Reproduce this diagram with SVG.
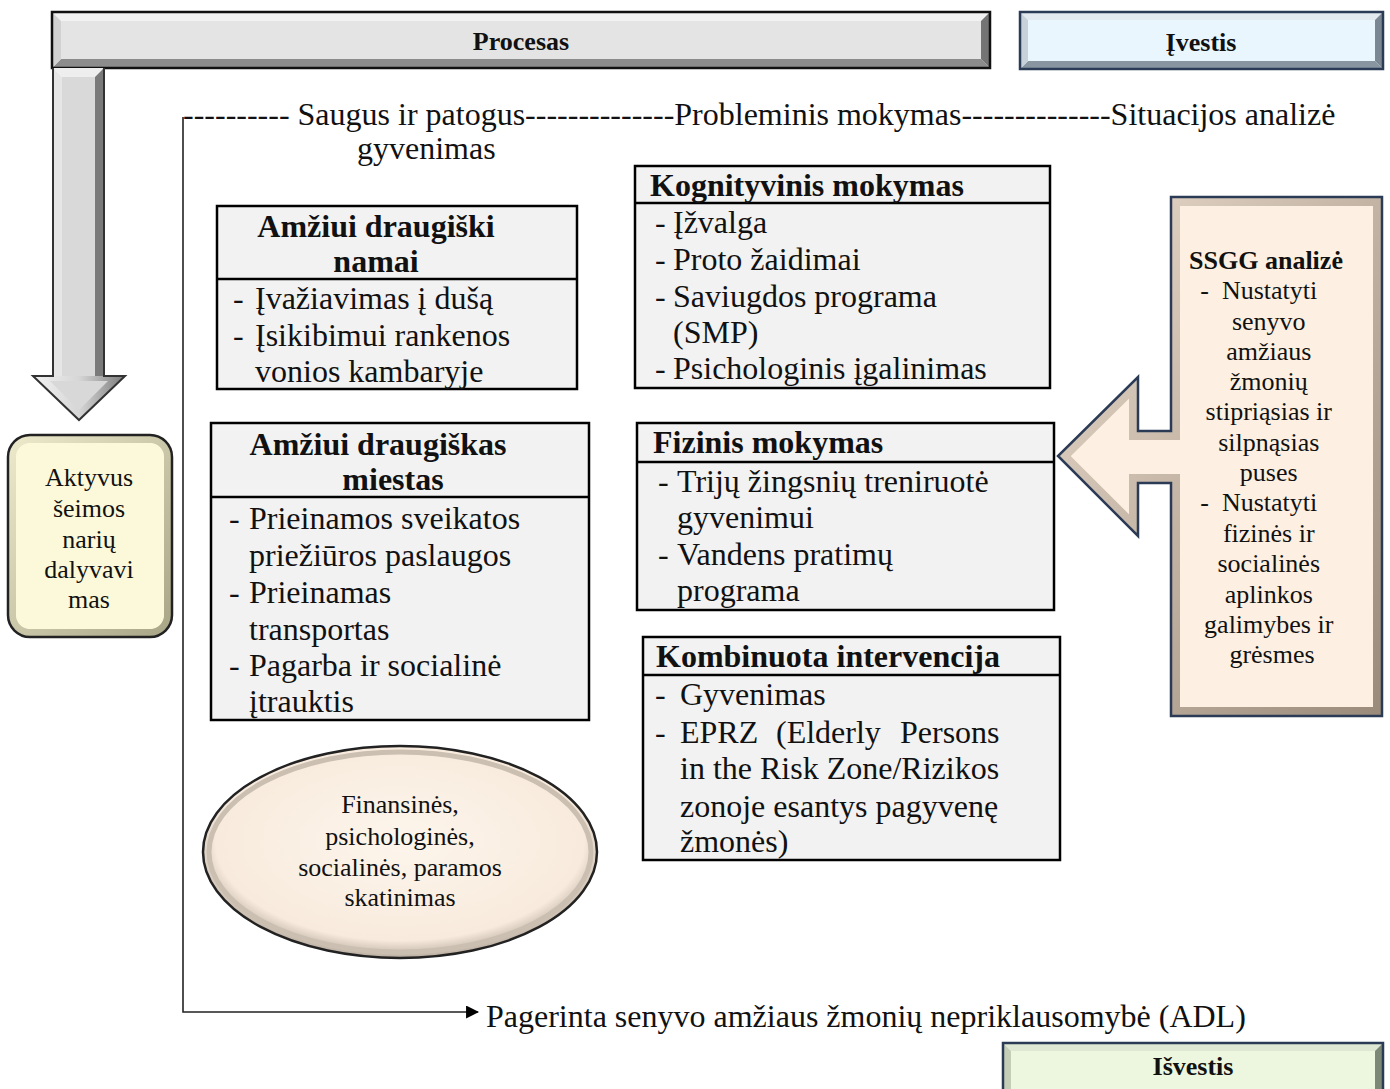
<svg xmlns="http://www.w3.org/2000/svg" width="1390" height="1089" viewBox="0 0 1390 1089">
<style>
  text { font-family: "Liberation Serif", "Times New Roman", serif; fill: #111; }
  .t32 { font-size: 32px; }
  .b32 { font-size: 32px; font-weight: bold; }
  .t26 { font-size: 26px; }
  .b26 { font-size: 26px; font-weight: bold; }
  .mid { text-anchor: middle; }
  .box { fill: #f2f2f2; stroke: #000; stroke-width: 2.5; }
  .div { stroke: #000; stroke-width: 2.5; }
  .conn { fill: none; stroke: #222; stroke-width: 1.6; }
</style>
<defs>
  <marker id="arr" viewBox="0 0 12 12" refX="11" refY="6" markerWidth="13" markerHeight="13" markerUnits="userSpaceOnUse" orient="auto">
    <path d="M0,0 L12,6 L0,12 Z" fill="#000"/>
  </marker>
  <linearGradient id="gHead" x1="0" y1="0" x2="1" y2="0">
    <stop offset="0" stop-color="#f2f2f2"/>
    <stop offset="0.5" stop-color="#d6d6d6"/>
    <stop offset="1" stop-color="#7c7c7c"/>
  </linearGradient>
  <linearGradient id="gPeach" x1="0" y1="0" x2="1" y2="1">
    <stop offset="0" stop-color="#eadccd"/>
    <stop offset="1" stop-color="#9a8a7a"/>
  </linearGradient>
  <linearGradient id="gYel" x1="0" y1="0" x2="1" y2="1">
    <stop offset="0" stop-color="#eeeacc"/>
    <stop offset="1" stop-color="#a8a486"/>
  </linearGradient>
  <radialGradient id="gEll" cx="0.5" cy="0.45" r="0.55">
    <stop offset="0" stop-color="#fdf5ec"/>
    <stop offset="0.85" stop-color="#f8ebdd"/>
    <stop offset="1" stop-color="#b9ada0"/>
  </radialGradient>
  <clipPath id="cSSGG"><path d="M1171,197 H1382 V716 H1171 V483 H1138 V536 L1058,456 L1138,377 V431 H1171 Z"/></clipPath>
  <clipPath id="cAkt"><rect x="8" y="435" width="164" height="202" rx="22"/></clipPath>
</defs>

<!-- Procesas bar -->
<g id="procesas">
  <polygon points="52,12 990,12 981,21 61,21" fill="#f2f2f2"/>
  <polygon points="52,68 990,68 981,59 61,59" fill="#8c8c8c"/>
  <polygon points="52,12 61,21 61,59 52,68" fill="#d2d2d2"/>
  <polygon points="990,12 981,21 981,59 990,68" fill="#747474"/>
  <rect x="61" y="21" width="920" height="38" fill="#e4e4e4"/>
  <rect x="52" y="12" width="938" height="56" fill="none" stroke="#111" stroke-width="2.5"/>
  <text x="521" y="50" class="b26 mid">Procesas</text>
</g>

<!-- Down arrow -->
<g id="down-arrow">
  <polygon points="53,68 104,68 95,77 62,77" fill="#eeeeee"/>
  <polygon points="53,68 62,77 62,378 53,378" fill="#e6e6e6"/>
  <polygon points="104,68 95,77 95,378 104,378" fill="#7a7a7a"/>
  <rect x="62" y="77" width="33" height="301" fill="#d9d9d9"/>
  <polygon points="33,376 125,376 79,420" fill="url(#gHead)"/>
  <polygon points="50,381 108,381 79,410" fill="#d8d8d8"/>
  <path d="M53,68 V376 H33 L79,420 L125,376 H104 V68" fill="none" stroke="#333" stroke-width="2"/>
</g>

<!-- Ivestis -->
<g id="ivestis">
  <polygon points="1020,12 1383,12 1375,20 1028,20" fill="#e2eaf0"/>
  <polygon points="1020,69 1383,69 1375,61 1028,61" fill="#8995a0"/>
  <polygon points="1020,12 1028,20 1028,61 1020,69" fill="#c6d1d9"/>
  <polygon points="1383,12 1375,20 1375,61 1383,69" fill="#7b8893"/>
  <rect x="1028" y="20" width="347" height="41" fill="#eaf6fd"/>
  <rect x="1020" y="12" width="363" height="57" fill="none" stroke="#2b3a55" stroke-width="2.5"/>
  <text x="1201" y="51" class="b26 mid">Įvestis</text>
</g>

<!-- Aktyvus -->
<g id="aktyvus">
  <rect x="8" y="435" width="164" height="202" rx="22" fill="#fcf9da"/>
  <rect x="8" y="435" width="164" height="202" rx="22" fill="none" stroke="url(#gYel)" stroke-width="16" clip-path="url(#cAkt)"/>
  <rect x="16" y="443" width="148" height="186" rx="16" fill="#fcf9da"/>
  <rect x="8" y="435" width="164" height="202" rx="22" fill="none" stroke="#222" stroke-width="2.5"/>
  <text class="t26 mid" x="89"><tspan x="89" y="486">Aktyvus</tspan><tspan x="89" y="517">šeimos</tspan><tspan x="89" y="548">narių</tspan><tspan x="89" y="578">dalyvavi</tspan><tspan x="89" y="608">mas</tspan></text>
</g>

<!-- top phrase line -->
<g id="phases">
  <text x="183" y="125" class="t32" xml:space="preserve">---------- Saugus ir patogus--------------Probleminis mokymas--------------Situacijos analizė</text>
  <text x="357" y="159" class="t32">gyvenimas</text>
</g>

<!-- Box 1 -->
<g id="namai">
  <rect x="217" y="206" width="360" height="183" class="box"/>
  <line x1="217" y1="279" x2="577" y2="279" class="div"/>
  <text class="b32 mid"><tspan x="376" y="237">Amžiui draugiški</tspan><tspan x="376" y="272">namai</tspan></text>
  <text class="t32"><tspan x="233" y="309">-</tspan><tspan x="255" y="309">Įvažiavimas į dušą</tspan><tspan x="233" y="346">-</tspan><tspan x="255" y="346">Įsikibimui rankenos</tspan><tspan x="255" y="382">vonios kambaryje</tspan></text>
</g>

<!-- Box 2 -->
<g id="miestas">
  <rect x="211" y="423" width="378" height="297" class="box"/>
  <line x1="211" y1="497" x2="589" y2="497" class="div"/>
  <text class="b32 mid"><tspan x="378" y="455">Amžiui draugiškas</tspan><tspan x="393" y="490">miestas</tspan></text>
  <text class="t32"><tspan x="229" y="529">-</tspan><tspan x="249" y="529">Prieinamos sveikatos</tspan><tspan x="249" y="566">priežiūros paslaugos</tspan><tspan x="229" y="603">-</tspan><tspan x="249" y="603">Prieinamas</tspan><tspan x="249" y="640">transportas</tspan><tspan x="229" y="676">-</tspan><tspan x="249" y="676">Pagarba ir socialinė</tspan><tspan x="249" y="712">įtrauktis</tspan></text>
</g>

<!-- Ellipse -->
<g id="parama">
  <ellipse cx="400" cy="852" rx="197" ry="106" fill="url(#gEll)"/>
  <ellipse cx="400" cy="852" rx="191" ry="100" fill="none" stroke="#cbbfb2" stroke-width="5"/>
  <ellipse cx="400" cy="852" rx="197" ry="106" fill="none" stroke="#222" stroke-width="2.5"/>
  <text class="t26 mid"><tspan x="400" y="813">Finansinės,</tspan><tspan x="400" y="845">psichologinės,</tspan><tspan x="400" y="876">socialinės, paramos</tspan><tspan x="400" y="906">skatinimas</tspan></text>
</g>

<!-- Box 3 -->
<g id="kognityvinis">
  <rect x="635" y="166" width="415" height="222" class="box"/>
  <line x1="635" y1="203" x2="1050" y2="203" class="div"/>
  <text x="650" y="196" class="b32">Kognityvinis mokymas</text>
  <text class="t32"><tspan x="655" y="233">-</tspan><tspan x="673" y="233">Įžvalga</tspan><tspan x="655" y="270">-</tspan><tspan x="673" y="270">Proto žaidimai</tspan><tspan x="655" y="307">-</tspan><tspan x="673" y="307">Saviugdos programa</tspan><tspan x="673" y="343">(SMP)</tspan><tspan x="655" y="379">-</tspan><tspan x="673" y="379">Psichologinis įgalinimas</tspan></text>
</g>

<!-- Box 4 -->
<g id="fizinis">
  <rect x="637" y="423" width="417" height="187" class="box"/>
  <line x1="637" y1="462" x2="1054" y2="462" class="div"/>
  <text x="653" y="453" class="b32">Fizinis mokymas</text>
  <text class="t32"><tspan x="658" y="492">-</tspan><tspan x="677" y="492">Trijų žingsnių treniruotė</tspan><tspan x="677" y="528">gyvenimui</tspan><tspan x="658" y="565">-</tspan><tspan x="677" y="565">Vandens pratimų</tspan><tspan x="677" y="601">programa</tspan></text>
</g>

<!-- Box 5 -->
<g id="kombinuota">
  <rect x="643" y="637" width="417" height="223" class="box"/>
  <line x1="643" y1="675" x2="1060" y2="675" class="div"/>
  <text x="656" y="667" class="b32">Kombinuota intervencija</text>
  <text class="t32"><tspan x="655" y="705">-</tspan><tspan x="680" y="705">Gyvenimas</tspan><tspan x="655" y="743">-</tspan><tspan x="680" y="743">EPRZ</tspan><tspan x="776" y="743">(Elderly</tspan><tspan x="900" y="743">Persons</tspan><tspan x="680" y="779">in the Risk Zone/Rizikos</tspan><tspan x="680" y="817">zonoje esantys pagyvenę</tspan><tspan x="680" y="852">žmonės)</tspan></text>
</g>

<!-- SSGG arrow box -->
<g id="ssgg">
  <path d="M1171,197 H1382 V716 H1171 V483 H1138 V536 L1058,456 L1138,377 V431 H1171 Z" fill="#fdf0e2"/>
  <path d="M1171,197 H1382 V716 H1171 V483 H1138 V536 L1058,456 L1138,377 V431 H1171 Z" fill="none" stroke="url(#gPeach)" stroke-width="18" clip-path="url(#cSSGG)"/>
  <path d="M1171,197 H1382 V716 H1171 V483 H1138 V536 L1058,456 L1138,377 V431 H1171 Z" fill="none" stroke="#2b3a55" stroke-width="2.5"/>
  <text x="1266" y="269" class="b26 mid">SSGG analizė</text>
  <text class="t26 mid">
    <tspan x="1262" y="299" xml:space="preserve">-  Nustatyti</tspan>
    <tspan x="1272" y="330">senyvo</tspan>
    <tspan x="1272" y="360">amžiaus</tspan>
    <tspan x="1272" y="390">žmonių</tspan>
    <tspan x="1272" y="420">stipriąsias ir</tspan>
    <tspan x="1272" y="451">silpnąsias</tspan>
    <tspan x="1272" y="481">puses</tspan>
    <tspan x="1262" y="511" xml:space="preserve">-  Nustatyti</tspan>
    <tspan x="1272" y="542">fizinės ir</tspan>
    <tspan x="1272" y="572">socialinės</tspan>
    <tspan x="1272" y="603">aplinkos</tspan>
    <tspan x="1272" y="633">galimybes ir</tspan>
    <tspan x="1272" y="663">grėsmes</tspan>
  </text>
</g>

<!-- Result text -->
<g id="rezultatas">
  <text x="486" y="1027" class="t32">Pagerinta senyvo amžiaus žmonių nepriklausomybė (ADL)</text>
</g>

<!-- Isvestis -->
<g id="isvestis">
  <polygon points="1003,1043 1383,1043 1375,1051 1011,1051" fill="#dfe8d2"/>
  <polygon points="1003,1043 1011,1051 1011,1089 1003,1089" fill="#c4ceb6"/>
  <polygon points="1383,1043 1375,1051 1375,1089 1383,1089" fill="#7e8876"/>
  <rect x="1011" y="1051" width="364" height="38" fill="#edf6df"/>
  <path d="M1003,1089 V1043 H1383 V1089" fill="none" stroke="#2b3a55" stroke-width="2.5"/>
  <text x="1193" y="1075" class="b26 mid">Išvestis</text>
</g>

<!-- Connectors -->
<g id="connectors">
  <path d="M183,117 V1012 H478" class="conn" marker-end="url(#arr)"/>
</g>
</svg>
